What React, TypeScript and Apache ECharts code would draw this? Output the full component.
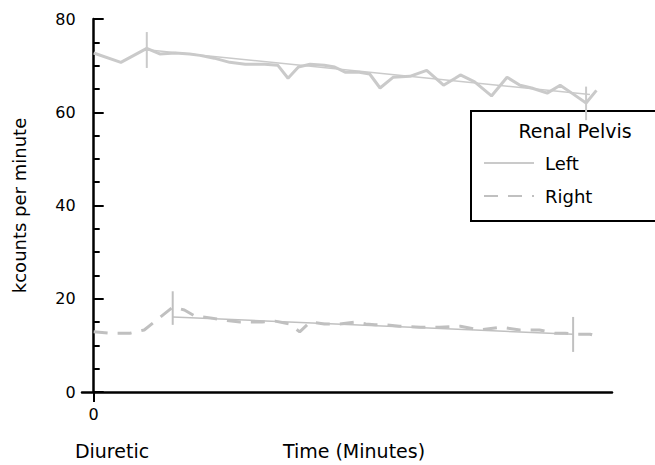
import React, { useEffect, useRef } from "react";
import * as echarts from "echarts";

// Time (minutes) / kcounts per minute
const leftTimes = [0, 2.1, 4.1, 5.1, 6.3, 7.4, 8.2, 9.3, 10.5, 11.7, 13.2, 14.2, 15.0, 15.8, 16.7, 17.8, 18.6, 19.4, 20.5, 21.3, 22.1, 23.1, 24.4, 25.7, 27.0, 27.9, 28.3, 29.4, 30.7, 31.9, 32.9, 33.8, 35.0, 36.0, 36.9, 38.0, 38.8];
const leftValues = [72.7, 70.7, 73.7, 72.5, 72.7, 72.5, 72.2, 71.6, 70.7, 70.3, 70.3, 70.1, 67.3, 69.7, 70.3, 70.1, 69.7, 68.6, 68.6, 68.2, 65.2, 67.5, 67.7, 69.0, 65.8, 67.3, 68.0, 66.5, 63.5, 67.5, 65.8, 65.2, 64.1, 65.8, 64.1, 62.0, 64.7];

const rightTimes = [0, 1.2, 2.8, 3.9, 6.1, 7.0, 7.8, 9.0, 10.1, 11.3, 13.0, 14.0, 15.1, 15.9, 16.7, 17.8, 19.0, 20.2, 21.0, 21.7, 22.5, 23.6, 25.2, 26.7, 28.3, 29.8, 31.4, 32.9, 34.4, 35.6, 36.4, 37.0, 38.3, 38.8];
const rightValues = [12.9, 12.6, 12.6, 13.3, 18.2, 17.6, 16.3, 15.9, 15.4, 15.0, 15.0, 15.2, 14.6, 12.9, 15.0, 14.6, 14.6, 15.0, 14.6, 14.4, 14.4, 14.1, 13.9, 13.9, 14.1, 13.3, 13.9, 13.3, 13.3, 12.6, 12.6, 12.4, 12.4, 12.0];

const leftFitTimes = [4.1, 38.3];
const leftFitValues = [73.4, 63.8];
const rightFitTimes = [6.1, 37.0];
const rightFitValues = [16.1, 12.4];

// error bars: [time, low, high]
const leftErrorBars = [[4.1, 69.5, 77.2], [38.0, 58.3, 65.5]];
const rightErrorBars = [[6.1, 14.4, 21.6], [37.0, 8.6, 16.1]];

const yLabels = [0, 20, 40, 60, 80];
const xLabels = [0];

const FONT = "DejaVu Sans";
const GREY = "#cacaca";
const GREY2 = "#c0c0c0";

const zip = (xs: number[], ys: number[]) => xs.map((x, i) => [x, ys[i]]);

export default function App() {
  const ref = useRef<HTMLDivElement>(null);
  useEffect(() => {
    if (!ref.current) return;
    const chart = echarts.init(ref.current, null, { renderer: "svg" });

    const errSeries = [...leftErrorBars.map((e) => ({ e, c: GREY })), ...rightErrorBars.map((e) => ({ e, c: GREY2 }))].map(({ e, c }, i) => ({
      type: "line",
      name: "err" + i,
      data: [[e[0], e[1]], [e[0], e[2]]],
      symbol: "none",
      lineStyle: { color: c, width: 2 },
      z: 3,
    }));

    chart.setOption({
      animation: false,
      grid: { left: 82, right: 43, top: 19, bottom: 73, containLabel: false, outerBoundsMode: "none" },
      xAxis: {
        type: "value",
        min: -0.9,
        max: 40,
        splitLine: { show: false },
        axisLine: { onZero: false, lineStyle: { color: "#000", width: 2.5 } },
        axisTick: { show: true, customValues: xLabels, length: 10, lineStyle: { color: "#000", width: 2 } },
        axisLabel: { customValues: xLabels, margin: 14, fontFamily: FONT, fontSize: 16, color: "#000" },
      },
      yAxis: {
        type: "value",
        min: 0,
        max: 80,
        interval: 20,
        offset: -11.7,
        name: "kcounts per minute",
        nameLocation: "middle",
        nameGap: 65,
        nameTextStyle: { fontFamily: FONT, fontSize: 18, color: "#000" },
        splitLine: { show: false },
        axisLine: { onZero: false, lineStyle: { color: "#000", width: 2.5 } },
        axisTick: { inside: true, length: 10, lineStyle: { color: "#000", width: 2 } },
        minorTick: { show: true, splitNumber: 4, length: 6, lineStyle: { color: "#000", width: 2 } },
        axisLabel: { margin: 18, fontFamily: FONT, fontSize: 16, color: "#000", formatter: (v: number) => (yLabels.includes(v) ? String(v) : "") },
      },
      legend: {
        data: ["Left", "Right"],
        orient: "vertical",
        left: 478,
        top: 148,
        itemWidth: 50,
        itemHeight: 14,
        itemGap: 13,
        itemStyle: { color: "transparent", borderColor: "transparent", borderWidth: 0 },
        textStyle: { fontFamily: FONT, fontSize: 18, color: "#000", lineHeight: 20, padding: [0, 0, 0, 6] },
      },
      graphic: [
        { type: "rect", shape: { x: 471, y: 111, width: 200, height: 110 }, style: { fill: "none", stroke: "#000", lineWidth: 2 }, z: 0 },
        { type: "text", x: 575, y: 131, style: { text: "Renal Pelvis", font: `19px "${FONT}"`, fill: "#000", align: "center", verticalAlign: "middle" } },
        { type: "text", x: 112, y: 451, style: { text: "Diuretic", font: `19px "${FONT}"`, fill: "#000", align: "center", verticalAlign: "middle" } },
        { type: "text", x: 354, y: 451, style: { text: "Time (Minutes)", font: `19px "${FONT}"`, fill: "#000", align: "center", verticalAlign: "middle" } },
      ],
      series: [
        {
          type: "line",
          name: "Left",
          data: zip(leftTimes, leftValues),
          symbol: "none",
          lineStyle: { color: GREY, width: 3 },
          itemStyle: { color: GREY },
          z: 3,
        },
        {
          type: "line",
          name: "Right",
          data: zip(rightTimes, rightValues),
          symbol: "none",
          lineStyle: { color: GREY2, width: 3, type: [14, 10] },
          itemStyle: { color: GREY2 },
          z: 3,
        },
        {
          type: "line",
          name: "Left fit",
          data: zip(leftFitTimes, leftFitValues),
          symbol: "none",
          lineStyle: { color: GREY, width: 1.5 },
          z: 3,
        },
        {
          type: "line",
          name: "Right fit",
          data: zip(rightFitTimes, rightFitValues),
          symbol: "none",
          lineStyle: { color: GREY2, width: 1.5 },
          z: 3,
        },
        ...errSeries,
      ],
    });
    return () => chart.dispose();
  }, []);
  return <div ref={ref} style={{ width: 655, height: 465, position: "absolute", left: 0, top: 0, background: "#fff" }} />;
}
